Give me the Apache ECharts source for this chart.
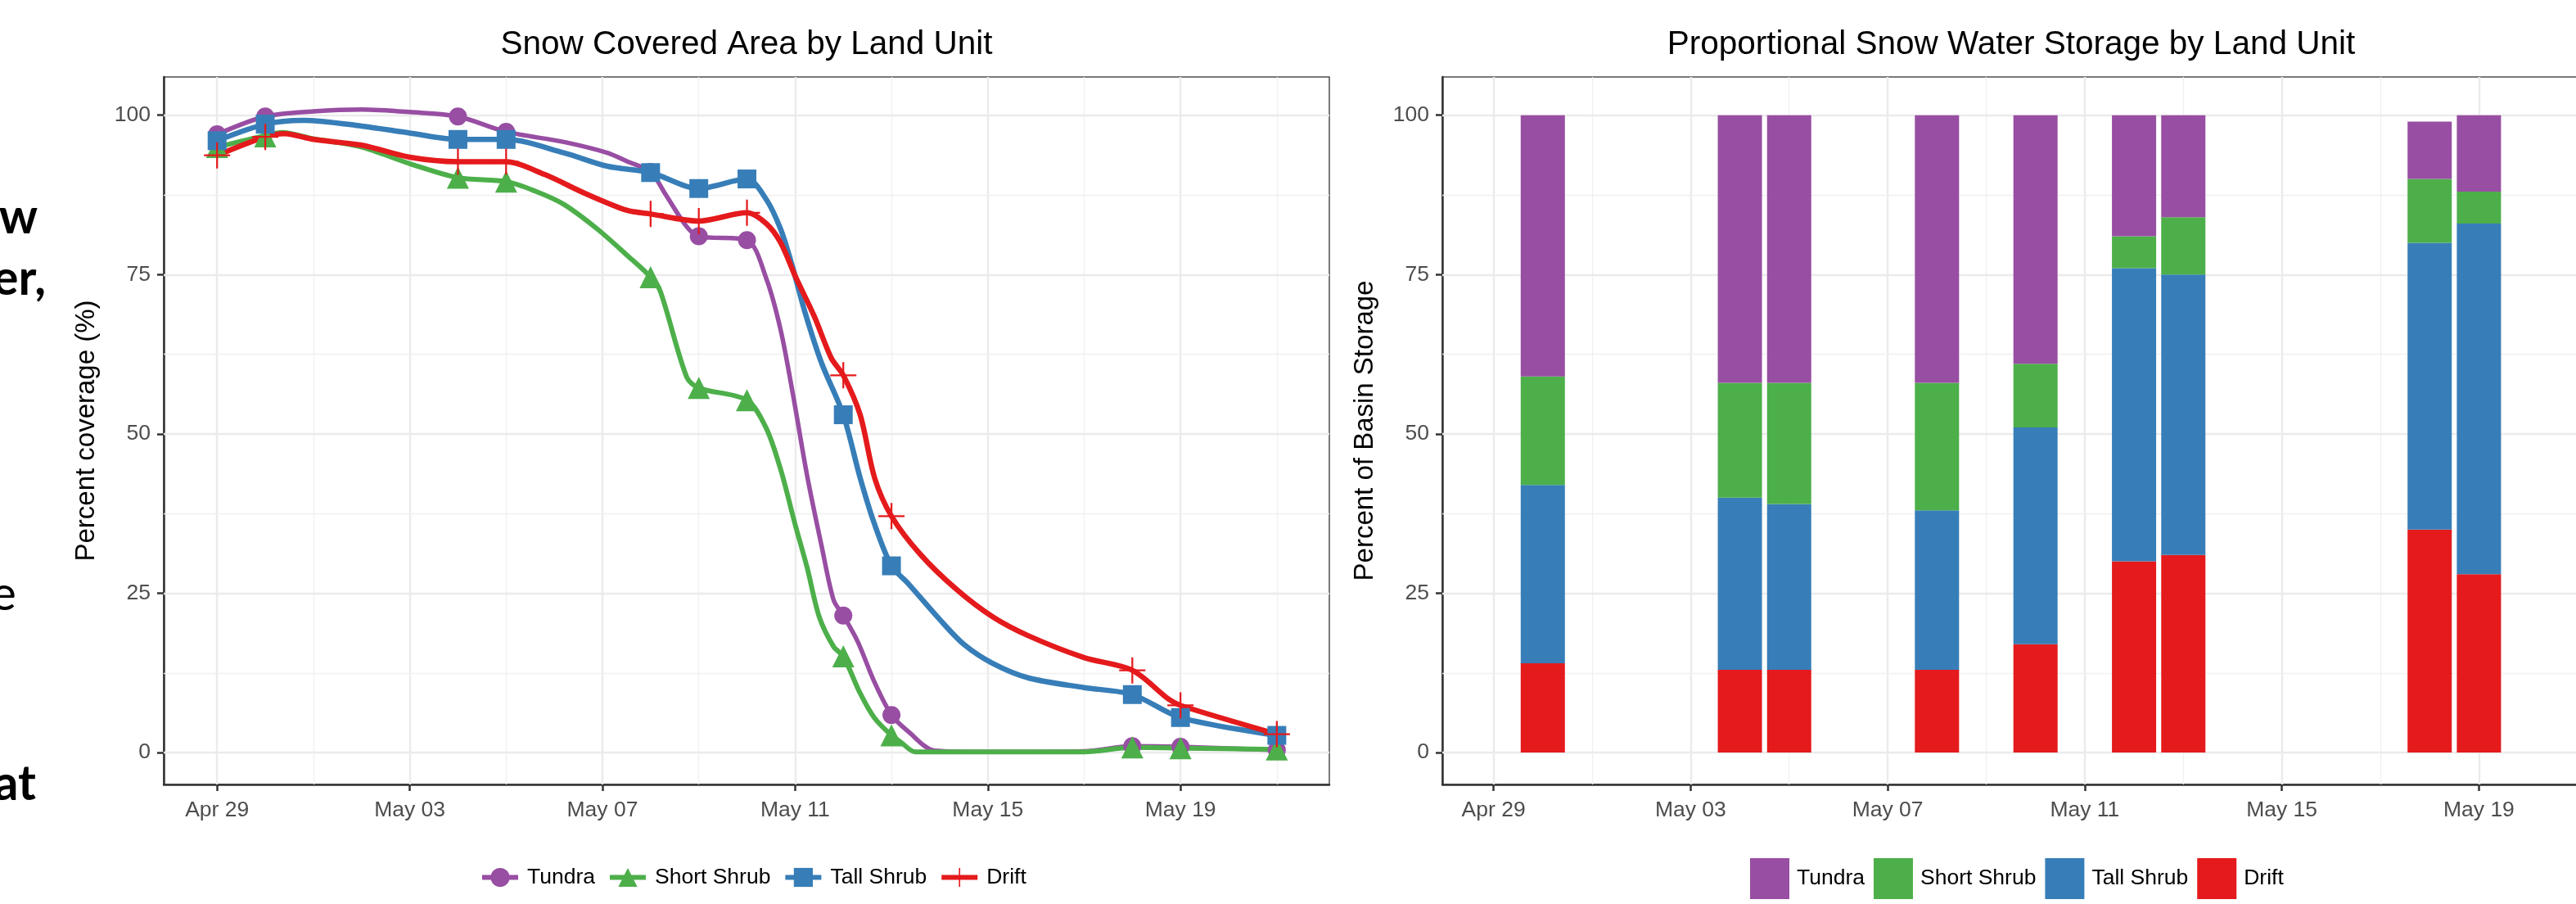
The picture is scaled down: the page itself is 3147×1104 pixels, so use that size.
<!DOCTYPE html>
<html><head><meta charset="utf-8">
<script src="https://cdn.jsdelivr.net/npm/echarts@6/dist/echarts.min.js"></script>
<style>html,body{margin:0;padding:0;background:#fff}#c{width:3147px;height:1104px}</style>
</head><body><div id="c"></div>
<script>
// ---------- data (x = days after Apr 29) ----------
const landUnits = ['Tundra', 'Short Shrub', 'Tall Shrub', 'Drift'];
const unitColors = ['#984EA3', '#4DAF4A', '#377EB8', '#E41A1C'];

// observation dates (markers)
const obsDays = [0, 1, 5, 6, 9, 10, 11, 13, 14, 19, 20, 22];
const tundraObs = [97.0, 99.8, 99.8, 97.4, 91.1, 81.0, 80.4, 21.5, 5.9, 1.0, 0.9, 0.4];
const shortShrubObs = [95.0, 96.7, 90.2, 89.6, 74.6, 57.2, 55.3, 15.1, 2.7, 0.8, 0.7, 0.5];
const tallShrubObs = [96.0, 98.6, 96.2, 96.2, 91.0, 88.5, 90.0, 53.0, 29.3, 9.1, 5.5, 2.7];
const driftObs = [93.7, 96.6, 92.7, 92.7, 84.5, 83.4, 84.7, 59.2, 37.1, 12.9, 7.4, 2.9];

// smoothed curves: [day, percent]
const tundraCurve = [[0,97.0],[1,99.8],[2,100.6],[3,100.9],[4,100.5],[5,99.8],[6,97.4],[7.2,95.8],[8.1,94.1],[8.5,92.8],[9,91.1],[9.3,87.7],[9.75,82.5],[10,81.0],[11,80.4],[11.4,74.4],[11.7,66.3],[11.95,56.4],[12.25,43.4],[12.55,32.4],[12.8,23.9],[13,21.5],[13.3,17.4],[13.65,11.0],[14,5.9],[14.35,3.3],[14.9,0.3],[16,0.1],[18,0.2],[19,1.0],[20,0.9],[22,0.4]];
const shortShrubCurve = [[0,95.0],[1,96.8],[1.35,97.3],[2,96.3],[3,95.0],[4,92.4],[5,90.2],[6,89.6],[6.6,88.1],[7.2,86.0],[7.9,82.1],[8.5,78.1],[9,74.6],[9.2,72.4],[9.75,58.9],[10,57.2],[11,55.3],[11.4,50.9],[11.7,44.4],[12,35.8],[12.25,29.0],[12.5,21.3],[12.8,16.6],[13,15.1],[13.35,9.3],[13.65,5.4],[14,2.7],[14.2,1.6],[14.5,0.1],[18,0.1],[19,0.8],[20,0.7],[22,0.5]];
const tallShrubCurve = [[0,96.0],[1,98.6],[1.8,99.2],[3,98.3],[4,97.2],[5,96.2],[6,96.2],[7.2,94.1],[8.1,92.0],[9,91.0],[10,88.5],[11,90.0],[11.4,86.8],[11.7,82.1],[11.95,76.1],[12.2,69.2],[12.55,61.1],[13,53.0],[13.35,43.1],[13.65,35.8],[14,29.3],[14.35,26.5],[15,20.9],[15.5,17.0],[16.1,14.0],[16.85,11.7],[18,10.2],[19,9.1],[20,5.5],[22,2.7]];
const driftCurve = [[0,93.7],[1,96.6],[1.4,97.1],[2,96.2],[3,95.3],[4,93.4],[5,92.7],[6,92.7],[6.8,90.7],[7.65,87.7],[8.5,85.1],[9,84.5],[10,83.4],[11,84.7],[11.4,83.0],[11.7,80.0],[12,74.8],[12.4,68.4],[12.75,61.9],[13,59.2],[13.35,53.0],[13.65,43.1],[14,37.1],[14.6,31.1],[15.35,25.6],[16.1,21.3],[16.85,18.3],[18,14.9],[19,12.9],[19.75,8.4],[20,7.4],[22,2.9]];

// proportional snow water storage (stacked bars, bottom to top: Drift, Tall Shrub, Short Shrub, Tundra)
const barDays = [1, 5, 6, 9, 11, 13, 14, 19, 20];
const driftShare = [14, 13, 13, 13, 17, 30, 31, 35, 28];
const tallShrubShare = [28, 27, 26, 25, 34, 46, 44, 45, 55];
const shortShrubShare = [17, 18, 19, 20, 10, 5, 9, 10, 5];
const tundraShare = [41, 42, 42, 42, 39, 19, 16, 9, 12];

// axes
const xTickDays = [0, 4, 8, 12, 16, 20];
const xTickLabels = ['Apr 29', 'May 03', 'May 07', 'May 11', 'May 15', 'May 19'];
const xMinorDays = [2, 6, 10, 14, 18, 22];
const yTicks = [0, 25, 50, 75, 100];
const yMinorTicks = [12.5, 37.5, 62.5, 87.5];

// ---------- chart ----------
const FONT = '"Liberation Sans", Arial, Helvetica, sans-serif';
const chart = echarts.init(document.getElementById('c'), null, {renderer: 'canvas'});

const majorGrid = {color: '#EBEBEB', width: 2.4, type: 'solid'};
const minorGrid = {color: '#F0F0F0', width: 1.3, type: 'solid'};
function gridLines() {
  return {
    silent: true, symbol: ['none', 'none'], z: 1, animation: false,
    label: {show: false}, emphasis: {disabled: true},
    data: [].concat(
      xTickDays.map(v => ({xAxis: v, lineStyle: majorGrid})),
      xMinorDays.map(v => ({xAxis: v, lineStyle: minorGrid})),
      yTicks.map(v => ({yAxis: v, lineStyle: majorGrid})),
      yMinorTicks.map(v => ({yAxis: v, lineStyle: minorGrid}))
    )
  };
}
const axisDark = {color: '#333333', width: 2.5};
function xAxisCfg(gi, min, max) {
  return {
    type: 'value', gridIndex: gi, min: min, max: max,
    splitLine: {show: false},
    axisLine: {show: true, onZero: false, lineStyle: axisDark},
    axisTick: {show: true, customValues: xTickDays, length: 8, lineStyle: axisDark},
    axisLabel: {customValues: xTickDays, formatter: v => xTickLabels[xTickDays.indexOf(v)],
      color: '#4D4D4D', fontSize: 26.5, fontFamily: FONT, margin: 18}
  };
}
function yAxisCfg(gi, name) {
  return {
    type: 'value', gridIndex: gi, min: -5, max: 106,
    name: name, nameLocation: 'middle', nameRotate: 90, nameGap: 78,
    nameTextStyle: {fontSize: 33, color: '#000', fontFamily: FONT},
    splitLine: {show: false},
    axisLine: {show: true, onZero: false, lineStyle: axisDark},
    axisTick: {show: true, customValues: yTicks, length: 8, lineStyle: axisDark},
    axisLabel: {customValues: yTicks, color: '#4D4D4D', fontSize: 26.5, fontFamily: FONT, margin: 16}
  };
}

const crossPath = 'path://M-1,-0.07L1,-0.07L1,0.07L-1,0.07Z M-0.07,-1L0.07,-1L0.07,1L-0.07,1Z';
const markerSymbols = ['circle', 'triangle', 'rect', crossPath];
const markerSizes = [22, 27, 23, 32];
const lineWidths = [5.5, 6, 6.5, 6.5];
const curves = [tundraCurve, shortShrubCurve, tallShrubCurve, driftCurve];
const obsSets = [tundraObs, shortShrubObs, tallShrubObs, driftObs];

const series = [];
landUnits.forEach((n, i) => {
  const s = {
    type: 'line', name: n, xAxisIndex: 0, yAxisIndex: 0,
    data: curves[i], smooth: 0.3, showSymbol: false,
    symbol: markerSymbols[i], symbolSize: markerSizes[i],
    lineStyle: {color: unitColors[i], width: lineWidths[i]},
    itemStyle: {color: unitColors[i]}, z: 2, silent: true
  };
  if (i === 0) s.markLine = gridLines();
  series.push(s);
});
landUnits.forEach((n, i) => {
  series.push({
    type: 'scatter', name: n + ' obs', xAxisIndex: 0, yAxisIndex: 0,
    data: obsDays.map((d, j) => [d, obsSets[i][j]]),
    symbol: markerSymbols[i], symbolSize: markerSizes[i],
    itemStyle: {color: unitColors[i], opacity: 1}, z: 3, silent: true
  });
});
const shares = [tundraShare, shortShrubShare, tallShrubShare, driftShare];
[3, 2, 1, 0].forEach((i, k) => {
  const s = {
    type: 'bar', name: landUnits[i] + '\u200b', xAxisIndex: 1, yAxisIndex: 1,
    stack: 'storage', barWidth: 54,
    // share listed first so the stack is computed on the share (y) dimension
    dimensions: ['share', 'day'],
    encode: {x: 'day', y: 'share'},
    data: barDays.map((d, j) => [shares[i][j], d]),
    itemStyle: {color: unitColors[i]}, z: 2, silent: true
  };
  if (k === 0) s.markLine = gridLines();
  series.push(s);
});

chart.setOption({
  animation: false,
  backgroundColor: '#ffffff',
  grid: [
    {left: 200, top: 94, width: 1424, height: 864, show: true, borderColor: '#4D4D4D', borderWidth: 1.5,
      backgroundColor: '#fff', containLabel: false, outerBoundsMode: 'none'},
    {left: 1762, top: 94, width: 1453, height: 864, show: true, borderColor: '#4D4D4D', borderWidth: 1.5,
      backgroundColor: '#fff', containLabel: false, outerBoundsMode: 'none'}
  ],
  xAxis: [xAxisCfg(0, -1.108, 23.09), xAxisCfg(1, -1.04, 23.1)],
  yAxis: [yAxisCfg(0, 'Percent coverage (%)'), yAxisCfg(1, 'Percent of Basin Storage')],
  legend: [
    {data: landUnits, left: 586, top: 1058, orient: 'horizontal', padding: 0,
      itemWidth: 44, itemHeight: 29, itemGap: 15, selectedMode: false,
      lineStyle: {width: 6},
      textStyle: {fontSize: 26.5, color: '#000', fontFamily: FONT, padding: [0, 0, 0, 6]}},
    {data: landUnits.map(n => n + '\u200b'), formatter: n => n.replace('\u200b', ''),
      left: 2138, top: 1048, orient: 'horizontal', padding: 0, icon: 'rect',
      itemWidth: 48, itemHeight: 50, itemGap: 11, selectedMode: false,
      textStyle: {fontSize: 26.5, color: '#000', fontFamily: FONT, padding: [0, 0, 0, 4]}}
  ],
  graphic: [
    {type: 'text', x: 912, y: 55, silent: true, style: {text: 'Snow Covered Area by Land Unit',
      font: '40.5px "Liberation Sans", Arial, sans-serif', fill: '#000', align: 'center', verticalAlign: 'middle'}},
    {type: 'text', x: 2457, y: 55, silent: true, style: {text: 'Proportional Snow Water Storage by Land Unit',
      font: '40.5px "Liberation Sans", Arial, sans-serif', fill: '#000', align: 'center', verticalAlign: 'middle'}},
    {type: 'text', x: 46, y: 266, silent: true, style: {text: 'w', font: 'bold 59px Lato, "Open Sans", sans-serif', fill: '#000', align: 'right', verticalAlign: 'middle'}},
    {type: 'text', x: 56, y: 341, silent: true, style: {text: 'er,', font: 'bold 59px Lato, "Open Sans", sans-serif', fill: '#000', align: 'right', verticalAlign: 'middle'}},
    {type: 'text', x: 20, y: 726, silent: true, style: {text: 'e', font: '59px Lato, "Open Sans", sans-serif', fill: '#000', align: 'right', verticalAlign: 'middle'}},
    {type: 'text', x: 44, y: 958, silent: true, style: {text: 'at', font: 'bold 59px Lato, "Open Sans", sans-serif', fill: '#000', align: 'right', verticalAlign: 'middle'}}
  ],
  series: series
});
</script>
</body></html>
